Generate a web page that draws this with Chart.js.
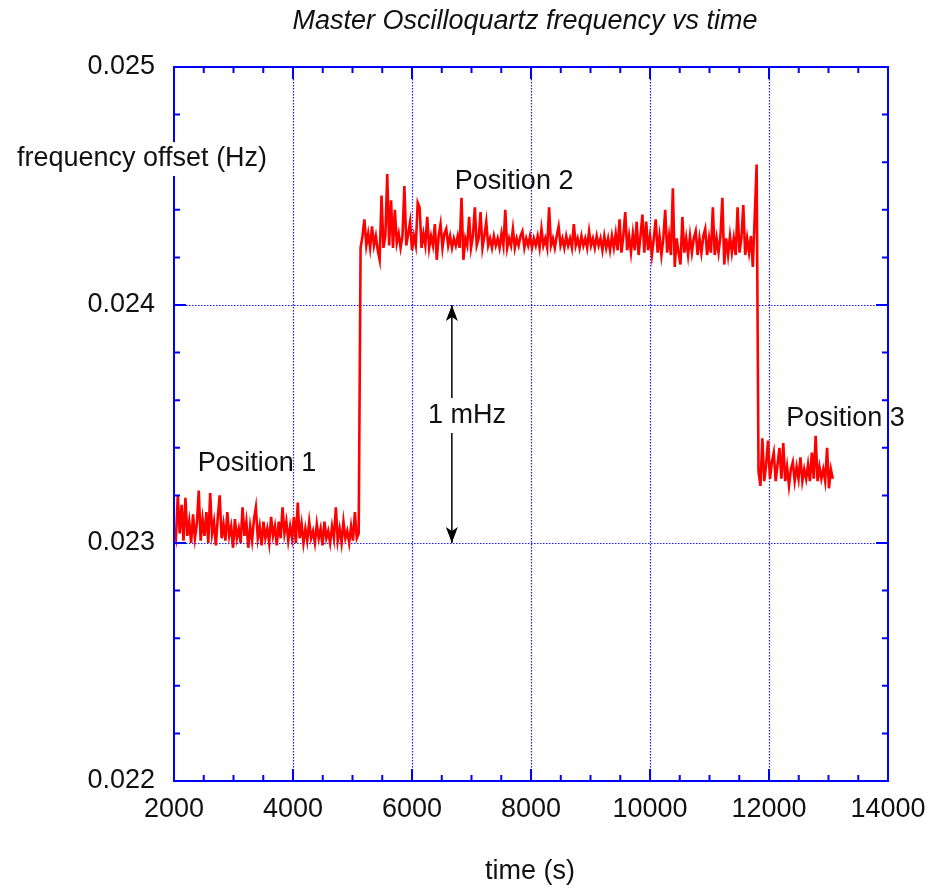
<!DOCTYPE html>
<html>
<head>
<meta charset="utf-8">
<script src="https://cdn.jsdelivr.net/npm/chart.js@4/dist/chart.umd.min.js"></script>
<style>
  html, body { margin: 0; background: #fff; }
</style>
</head>
<body>
<canvas id="freq" width="944" height="889"></canvas>
<script>
/* Oscilloquartz master frequency offset, three oscillator positions */

const T_START = 2000;   // s, first sample
const T_STEP = 32;      // s between samples

// frequency offset (Hz), position 1
const pos1 = [
  0.02306, 0.02302, 0.02320, 0.02304, 0.02316, 0.02301, 0.02319, 0.02303, 0.02309, 0.02300,
  0.02312, 0.02302, 0.02308, 0.02322, 0.02301, 0.02310, 0.02303, 0.02313, 0.02300, 0.02321,
  0.02304, 0.02309, 0.02299, 0.02311, 0.02320, 0.02302, 0.02308, 0.02301, 0.02313, 0.02303,
  0.02307, 0.02298, 0.02310, 0.02302, 0.02306, 0.02300, 0.02315, 0.02303, 0.02309, 0.02298,
  0.02307, 0.02301, 0.02310, 0.02315, 0.02302, 0.02307, 0.02299, 0.02309, 0.02302, 0.02306,
  0.02300, 0.02311, 0.02303, 0.02307, 0.02299, 0.02309, 0.02302, 0.02315, 0.02304, 0.02309,
  0.02301, 0.02307, 0.02302, 0.02311, 0.02300, 0.02317, 0.02302, 0.02308, 0.02300, 0.02306,
  0.02301, 0.02309, 0.02302, 0.02305, 0.02300, 0.02308, 0.02302, 0.02306, 0.02299, 0.02309,
  0.02302, 0.02305, 0.02300, 0.02307, 0.02302, 0.02315, 0.02301, 0.02306, 0.02300, 0.02309,
  0.02302, 0.02305, 0.02300, 0.02307, 0.02301, 0.02313, 0.02302, 0.02304
];

// position 2
const pos2 = [
  0.02424, 0.02429, 0.02436, 0.02425, 0.02430, 0.02424, 0.02433, 0.02425, 0.02429, 0.02423,
  0.02419, 0.02446, 0.02424, 0.02429, 0.02455, 0.02425, 0.02444, 0.02424, 0.02440, 0.02426,
  0.02430, 0.02424, 0.02429, 0.02450, 0.02425, 0.02430, 0.02435, 0.02423, 0.02429, 0.02425,
  0.02443, 0.02441, 0.02424, 0.02430, 0.02425, 0.02437, 0.02424, 0.02429, 0.02425, 0.02434,
  0.02419, 0.02429, 0.02434, 0.02424, 0.02430, 0.02432, 0.02425, 0.02429, 0.02424, 0.02428,
  0.02425, 0.02429, 0.02424, 0.02445, 0.02419, 0.02428, 0.02425, 0.02437, 0.02424, 0.02429,
  0.02441, 0.02425, 0.02428, 0.02439, 0.02424, 0.02429, 0.02435, 0.02425, 0.02428, 0.02424,
  0.02429, 0.02425, 0.02428, 0.02424, 0.02430, 0.02425, 0.02440, 0.02424, 0.02428, 0.02425,
  0.02432, 0.02424, 0.02428, 0.02425, 0.02429, 0.02431, 0.02424, 0.02428, 0.02425, 0.02429,
  0.02424, 0.02428, 0.02425, 0.02429, 0.02424, 0.02432, 0.02425, 0.02428, 0.02424, 0.02441,
  0.02425, 0.02428, 0.02424, 0.02429, 0.02433, 0.02425, 0.02428, 0.02424, 0.02429, 0.02425,
  0.02428, 0.02424, 0.02434, 0.02425, 0.02428, 0.02424, 0.02429, 0.02425, 0.02428, 0.02424,
  0.02431, 0.02425, 0.02428, 0.02424, 0.02429, 0.02425, 0.02428, 0.02423, 0.02429, 0.02424,
  0.02428, 0.02423, 0.02429, 0.02424, 0.02430, 0.02423, 0.02436, 0.02422, 0.02429, 0.02439,
  0.02423, 0.02429, 0.02422, 0.02430, 0.02423, 0.02435, 0.02421, 0.02429, 0.02438, 0.02422,
  0.02435, 0.02423, 0.02429, 0.02421, 0.02428, 0.02436, 0.02422, 0.02429, 0.02421, 0.02428,
  0.02440, 0.02422, 0.02429, 0.02421, 0.02449, 0.02416, 0.02428, 0.02422, 0.02417, 0.02437,
  0.02422, 0.02428, 0.02421, 0.02429, 0.02422, 0.02428, 0.02431, 0.02421, 0.02428, 0.02422,
  0.02429, 0.02432, 0.02421, 0.02428, 0.02422, 0.02441, 0.02421, 0.02428, 0.02422, 0.02429,
  0.02445, 0.02417, 0.02428, 0.02421, 0.02429, 0.02422, 0.02428, 0.02421, 0.02441, 0.02422,
  0.02428, 0.02442, 0.02421, 0.02428, 0.02422, 0.02429, 0.02416, 0.02437, 0.02459
];

// position 3
const pos3 = [
  0.02330, 0.02324, 0.02344, 0.02326, 0.02333, 0.02343, 0.02327, 0.02334, 0.02338, 0.02326,
  0.02333, 0.02340, 0.02327, 0.02342, 0.02326, 0.02332, 0.02324, 0.02331, 0.02334, 0.02326,
  0.02332, 0.02327, 0.02336, 0.02326, 0.02331, 0.02327, 0.02333, 0.02326, 0.02338, 0.02327,
  0.02345, 0.02326, 0.02332, 0.02327, 0.02331, 0.02326, 0.02340, 0.02323, 0.02331, 0.02327
];

const xTickValues = [2000, 4000, 6000, 8000, 10000, 12000, 14000];
const yTickValues = [0.022, 0.023, 0.024, 0.025];

// text labels placed in data coordinates (left edge, vertical centre)
const noteTexts = ['Position 1', 'Position 2', 'Position 3', '1 mHz'];
const noteT = [2400, 6720, 12290, 6270];
const noteF = [0.023332, 0.024517, 0.023525, 0.023534];

// the 1 mHz double arrow
const ARROW_T = 6670;
const ARROW_FROM = [0.023609, 0.023462];
const ARROW_TO = [0.024, 0.023];

const BLUE = '#0000ff';
const FONT = '"Liberation Sans", Arial, Helvetica, sans-serif';
const TEXT = '#111';

const freq = pos1.concat(pos2, pos3);
const points = freq.map((f, i) => ({ x: T_START + i * T_STEP, y: f }));

function arrowHead(ctx, x, y, dir) {
  // dir: -1 points up, +1 points down
  const len = 16, half = 6;
  ctx.beginPath();
  ctx.moveTo(x, y);
  ctx.lineTo(x - half, y - dir * len);
  ctx.lineTo(x, y - dir * len * 0.75);
  ctx.lineTo(x + half, y - dir * len);
  ctx.closePath();
  ctx.fill();
}

const framePlugin = {
  id: 'frame',
  beforeDatasetsDraw(chart) {
    const { ctx, chartArea: a, scales } = chart;
    ctx.save();
    ctx.strokeStyle = '#1515ff';
    ctx.lineWidth = 1.2;
    ctx.setLineDash([1.5, 1.5]);
    xTickValues.slice(1, -1).forEach(v => {
      const x = Math.round(scales.x.getPixelForValue(v)) + 0.5;
      ctx.beginPath(); ctx.moveTo(x, a.top); ctx.lineTo(x, a.bottom); ctx.stroke();
    });
    yTickValues.slice(1, -1).forEach(v => {
      const y = Math.round(scales.y.getPixelForValue(v)) + 0.5;
      ctx.beginPath(); ctx.moveTo(a.left, y); ctx.lineTo(a.right, y); ctx.stroke();
    });
    ctx.restore();
  },
  afterDatasetsDraw(chart) {
    const { ctx, chartArea: a, scales } = chart;
    const sx = scales.x, sy = scales.y;
    ctx.save();

    // inward ticks on all four sides
    ctx.strokeStyle = BLUE;
    ctx.lineWidth = 2;
    ctx.beginPath();
    for (let k = 0; k <= 24; k++) {
      const v = 2000 + k * 500;
      const x = sx.getPixelForValue(v);
      const len = k % 4 === 0 ? 12 : 6;
      ctx.moveTo(x, a.bottom); ctx.lineTo(x, a.bottom - len);
      ctx.moveTo(x, a.top); ctx.lineTo(x, a.top + len);
    }
    for (let k = 0; k <= 15; k++) {
      const v = 0.022 + k * 0.0002;
      const y = sy.getPixelForValue(v);
      const len = k % 5 === 0 ? 12 : 6;
      ctx.moveTo(a.left, y); ctx.lineTo(a.left + len, y);
      ctx.moveTo(a.right, y); ctx.lineTo(a.right - len, y);
    }
    ctx.stroke();
    ctx.strokeRect(a.left, a.top, a.right - a.left, a.bottom - a.top);

    // annotations
    ctx.fillStyle = TEXT;
    ctx.font = '27px ' + FONT;
    ctx.textBaseline = 'middle';
    ctx.textAlign = 'left';
    noteTexts.forEach((t, i) => {
      ctx.fillText(t, sx.getPixelForValue(noteT[i]), sy.getPixelForValue(noteF[i]));
    });

    // 1 mHz arrow
    ctx.strokeStyle = '#000';
    ctx.fillStyle = '#000';
    ctx.lineWidth = 1.5;
    const ax = sx.getPixelForValue(ARROW_T);
    for (let i = 0; i < 2; i++) {
      const y0 = sy.getPixelForValue(ARROW_FROM[i]);
      const y1 = sy.getPixelForValue(ARROW_TO[i]);
      ctx.beginPath(); ctx.moveTo(ax, y0); ctx.lineTo(ax, y1); ctx.stroke();
      arrowHead(ctx, ax, y1, y1 < y0 ? -1 : 1);
    }

    // titles
    ctx.fillStyle = TEXT;
    ctx.textAlign = 'center';
    ctx.font = 'italic 27px ' + FONT;
    ctx.fillText('Master Oscilloquartz frequency vs time', 525, 21);
    ctx.font = '27px ' + FONT;
    ctx.fillText('time (s)', 530, 872);

    ctx.textAlign = 'left';
    const label = 'frequency offset (Hz)';
    const w = ctx.measureText(label).width;
    ctx.fillStyle = '#fff';
    ctx.fillRect(14, 142, w + 6, 34);
    ctx.fillStyle = TEXT;
    ctx.fillText(label, 17, 159);
    ctx.restore();
  }
};

new Chart(document.getElementById('freq'), {
  type: 'line',
  data: {
    datasets: [{
      data: points,
      borderColor: '#ff0000',
      borderWidth: 2.6,
      borderJoinStyle: 'miter',
      pointRadius: 0,
      tension: 0,
      fill: false
    }]
  },
  options: {
    responsive: false,
    animation: false,
    layout: { padding: { top: 67, right: 56, bottom: 0, left: 0 } },
    plugins: { legend: { display: false }, tooltip: { enabled: false } },
    scales: {
      x: {
        type: 'linear', min: 2000, max: 14000,
        grid: { display: false, drawTicks: false },
        border: { display: false },
        afterBuildTicks: s => { s.ticks = xTickValues.map(v => ({ value: v })); },
        ticks: { padding: 12, color: TEXT, font: { family: FONT, size: 27 }, maxRotation: 0, callback: v => String(v) },
        afterFit: s => { s.height = 108; }
      },
      y: {
        type: 'linear', min: 0.022, max: 0.025,
        grid: { display: false, drawTicks: false },
        border: { display: false },
        afterBuildTicks: s => { s.ticks = yTickValues.map(v => ({ value: v })); },
        ticks: { padding: 19, color: TEXT, font: { family: FONT, size: 27 }, callback: v => v.toFixed(3) },
        afterFit: s => { s.width = 174; }
      }
    }
  },
  plugins: [framePlugin]
});
</script>
</body>
</html>
